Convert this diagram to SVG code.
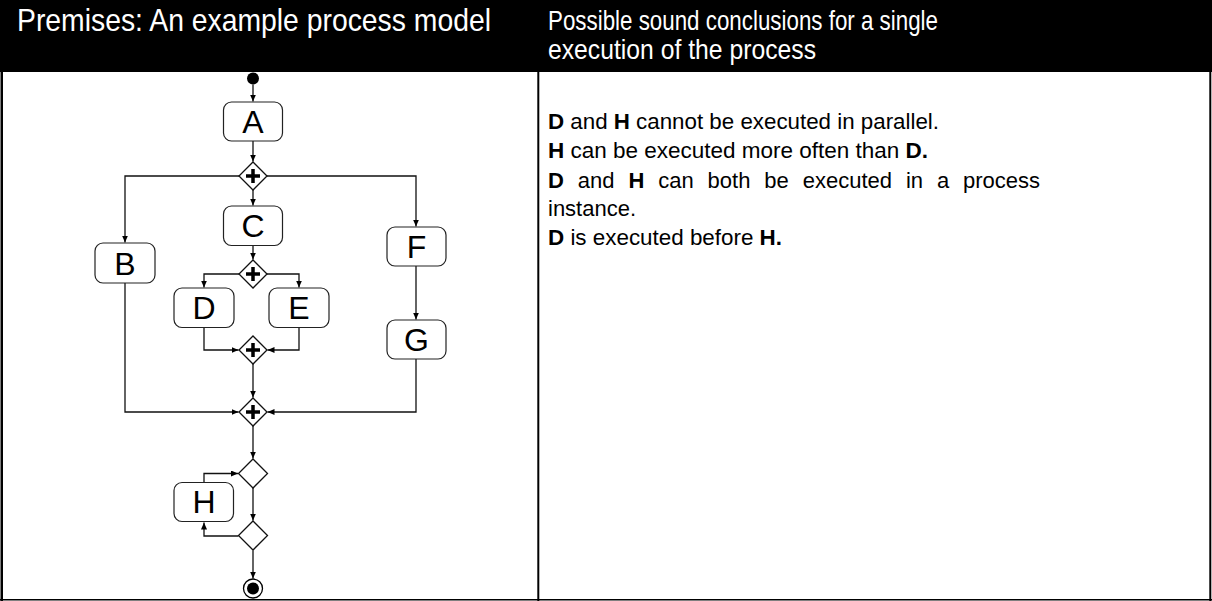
<svg xmlns="http://www.w3.org/2000/svg" width="1212" height="601" viewBox="0 0 1212 601">
<style>
.hdr{font-family:"Liberation Sans",Arial,sans-serif;fill:#fff}
.body{font-family:"Liberation Sans",Arial,sans-serif;font-size:22px;fill:#000}
.b{font-weight:bold}
.box{fill:#fff;stroke:#222;stroke-width:1.2}
.lbl{font-family:"Liberation Sans",Arial,sans-serif;font-size:32px;fill:#000;text-anchor:middle}
.gw{fill:#fff;stroke:#111;stroke-width:1.3}
.plus{stroke:#000;stroke-width:3.5;fill:none}
.con{fill:none;stroke:#111;stroke-width:1.3}
</style>
<defs>
<marker id="ah" markerUnits="userSpaceOnUse" markerWidth="8" markerHeight="7" refX="7" refY="3" orient="auto">
<path d="M0,0 L7,3 L0,6 z" fill="#000"/>
</marker>
</defs>
<rect x="0" y="0" width="1212" height="601" fill="#fff"/>
<g id="table">
<rect x="0" y="0" width="1212" height="72" fill="#000"/>
<rect x="0.5" y="0" width="2.5" height="601" fill="#000"/>
<rect x="537.3" y="0" width="2" height="601" fill="#000"/>
<rect x="1209.3" y="0" width="2" height="601" fill="#000"/>
<rect x="0" y="599" width="1212" height="1.5" fill="#000"/>
</g>
<g id="headers">
<text class="hdr" x="17" y="31" font-size="31.5" textLength="474" lengthAdjust="spacingAndGlyphs">Premises: An example process model</text>
<text class="hdr" x="548" y="29.5" font-size="28" textLength="390" lengthAdjust="spacingAndGlyphs">Possible sound conclusions for a single</text>
<text class="hdr" x="548" y="59" font-size="28" textLength="268" lengthAdjust="spacingAndGlyphs">execution of the process</text>
</g>
<g id="conclusions">
<text class="body" x="548" y="129" textLength="391" lengthAdjust="spacingAndGlyphs"><tspan class="b">D</tspan> and <tspan class="b">H</tspan> cannot be executed in parallel.</text>
<text class="body" x="548" y="158" textLength="380" lengthAdjust="spacingAndGlyphs"><tspan class="b">H</tspan> can be executed more often than <tspan class="b">D.</tspan></text>
<text class="body" y="187.5"><tspan class="b" x="548">D</tspan><tspan x="577.8">and</tspan><tspan class="b" x="628.4">H</tspan><tspan x="658.2">can</tspan><tspan x="707.6">both</tspan><tspan x="764.3">be</tspan><tspan x="802.7">executed</tspan><tspan x="905.9">in</tspan><tspan x="936.9">a</tspan><tspan x="963">process</tspan></text>
<text class="body" x="548" y="216">instance.</text>
<text class="body" x="548" y="245" textLength="234" lengthAdjust="spacingAndGlyphs"><tspan class="b">D</tspan> is executed before <tspan class="b">H.</tspan></text>
</g>
<g id="connectors">
<path class="con" d="M253,84.5 V101.5" marker-end="url(#ah)"/>
<path class="con" d="M253,141 V161.5" marker-end="url(#ah)"/>
<path class="con" d="M239,176 H125 V242.5" marker-end="url(#ah)"/>
<path class="con" d="M267,176 H416 V226.5" marker-end="url(#ah)"/>
<path class="con" d="M253,190 V205.5" marker-end="url(#ah)"/>
<path class="con" d="M253,245.5 V259.5" marker-end="url(#ah)"/>
<path class="con" d="M239,274 H204 V287.5" marker-end="url(#ah)"/>
<path class="con" d="M267,274 H299 V287.5" marker-end="url(#ah)"/>
<path class="con" d="M204,327.5 V350 H238.5" marker-end="url(#ah)"/>
<path class="con" d="M299,327.5 V350 H267.5" marker-end="url(#ah)"/>
<path class="con" d="M253,364 V397.5" marker-end="url(#ah)"/>
<path class="con" d="M125,283 V412 H238.5" marker-end="url(#ah)"/>
<path class="con" d="M416,266 V319.5" marker-end="url(#ah)"/>
<path class="con" d="M416,359 V412 H267.5" marker-end="url(#ah)"/>
<path class="con" d="M253,426 V458.5" marker-end="url(#ah)"/>
<path class="con" d="M253,488 V520.5" marker-end="url(#ah)"/>
<path class="con" d="M238.5,536 H204 V522.5" marker-end="url(#ah)"/>
<path class="con" d="M204,482.5 V473.5 H238" marker-end="url(#ah)"/>
<path class="con" d="M253,550.5 V578.5" marker-end="url(#ah)"/>
</g>
<g id="start"><circle cx="253" cy="78.5" r="6" fill="#000"/></g>
<g id="A"><rect class="box" x="223.5" y="102" width="59" height="39" rx="8"/><text class="lbl" x="253" y="132.5">A</text></g>
<g id="fork1"><path class="gw" d="M253,162 L267,176 L253,190 L239,176 Z"/><path class="plus" d="M246,176 H260 M253,169 V183"/></g>
<g id="B"><rect class="box" x="95" y="243" width="60" height="40" rx="8"/><text class="lbl" x="125" y="274.5">B</text></g>
<g id="C"><rect class="box" x="223.5" y="206" width="59" height="39.5" rx="8"/><text class="lbl" x="253" y="237">C</text></g>
<g id="F"><rect class="box" x="387" y="227" width="59" height="39" rx="8"/><text class="lbl" x="416.5" y="258">F</text></g>
<g id="fork2"><path class="gw" d="M253,260 L267,274 L253,288 L239,274 Z"/><path class="plus" d="M246,274 H260 M253,267 V281"/></g>
<g id="D"><rect class="box" x="174" y="288" width="60" height="39.5" rx="8"/><text class="lbl" x="204" y="319">D</text></g>
<g id="E"><rect class="box" x="269" y="288" width="60" height="39.5" rx="8"/><text class="lbl" x="299" y="319">E</text></g>
<g id="join1"><path class="gw" d="M253,336 L267,350 L253,364 L239,350 Z"/><path class="plus" d="M246,350 H260 M253,343 V357"/></g>
<g id="G"><rect class="box" x="387" y="320" width="59" height="39" rx="8"/><text class="lbl" x="416.5" y="350.5">G</text></g>
<g id="join2"><path class="gw" d="M253,398 L267,412 L253,426 L239,412 Z"/><path class="plus" d="M246,412 H260 M253,405 V419"/></g>
<g id="merge"><path class="gw" d="M253,459 L267.5,473.5 L253,488 L238.5,473.5 Z"/></g>
<g id="H"><rect class="box" x="174" y="482.5" width="59.5" height="39" rx="8"/><text class="lbl" x="204" y="513">H</text></g>
<g id="decision"><path class="gw" d="M253,521 L267.5,535.5 L253,550 L238.5,535.5 Z"/></g>
<g id="end"><circle cx="253" cy="588.5" r="9.5" fill="#fff" stroke="#000" stroke-width="1.3"/><circle cx="253" cy="588.5" r="6" fill="#000"/></g>
</svg>
